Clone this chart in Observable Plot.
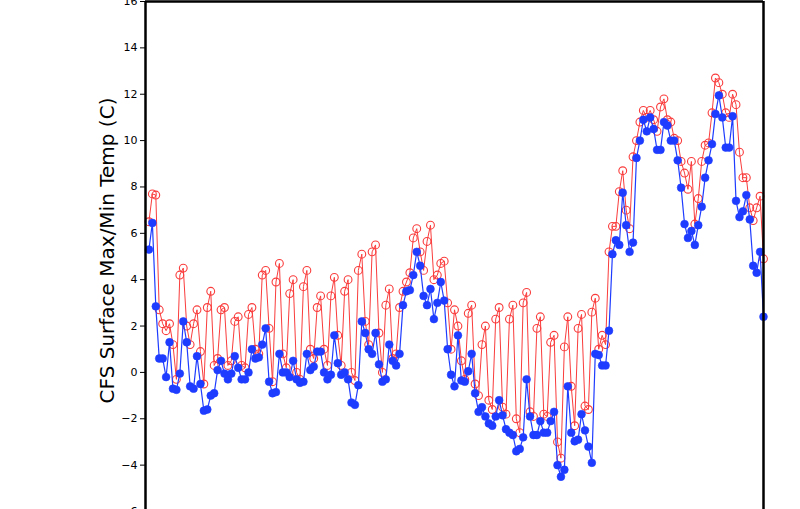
<!DOCTYPE html>
<html>
<head>
<meta charset="utf-8">
<script src="https://cdn.jsdelivr.net/npm/d3@7"></script>
<script src="https://cdn.jsdelivr.net/npm/@observablehq/plot@0.6"></script>
<style>
  html, body { margin: 0; padding: 0; background: #ffffff; }
  #chart svg { display: block; }
</style>
</head>
<body>
<div id="chart"></div>
<script>
// 6-hourly CFS surface maximum temperature (C)
const maxTemp = [
  6.5, 7.7, 7.65, 2.7, 2.1, 1.8, 2.1, 1.2, -0.3, 4.2,
  4.5, 2.0, 1.2, 2.1, 2.7, 0.9, -0.5, 2.8, 3.5, 0.3,
  0.6, 2.7, 2.8, 0.3, 0.5, 2.2, 2.4, 0.3, 0.2, 2.5,
  2.8, 1.0, 0.8, 4.2, 4.4, 1.9, -0.4, 3.9, 4.7, 0.8,
  0.2, 3.4, 4.0, 0.0, -0.3, 3.7, 4.4, 1.0, 0.6, 2.8,
  3.3, 1.0, 0.3, 3.3, 4.1, 1.6, 0.3, 3.5, 4.0, 0.0,
  -0.35, 4.4, 5.1, 2.2, 1.2, 5.2, 5.5, 1.7, 0.0, 2.9,
  3.6, 0.6, 0.8, 2.8, 3.5, 3.9, 4.3, 5.8, 6.2, 5.2,
  4.4, 5.65, 6.35, 4.0, 4.2, 4.7, 4.8, 3.0, 1.0, 2.7,
  2.0, 0.5, -0.3, 2.55, 2.9, -0.5, -1.0, 1.2, 2.0, -1.2,
  -1.6, 2.3, 2.8, -1.5, -1.8, 2.3, 2.9, -2.0, -2.6, 3.0,
  3.45, -1.7, -1.9, 1.9, 2.4, -1.8, -1.9, 1.3, 1.6, -3.0,
  -3.7, 1.1, 2.4, -0.6, -2.3, 1.9, 2.5, -1.45, -1.6, 2.6,
  3.2, 1.0, 1.6, 1.2, 5.2, 6.3, 6.3, 7.8, 8.7, 7.0,
  6.2, 9.3, 10.0, 10.8, 11.3, 11.0, 11.3, 10.9, 10.4, 11.45,
  11.8, 10.9, 10.8, 10.1, 10.0, 9.1, 8.6, 7.9, 9.1, 6.4,
  7.5, 9.1, 9.8, 9.9, 11.2, 12.7, 12.5, 12.0, 11.2, 11.0,
  12.0, 11.55, 9.5, 8.4, 8.4, 7.1, 6.55, 7.1, 7.6, 4.9
];
// 6-hourly CFS surface minimum temperature (C)
const minTemp = [
  5.3, 6.45, 2.85, 0.6, 0.6, -0.2, 1.3, -0.7, -0.75, -0.05,
  2.2, 1.3, -0.6, -0.7, 0.7, -0.5, -1.65, -1.6, -1.0, -0.9,
  0.1, 0.5, -0.05, -0.3, -0.05, 0.7, 0.2, -0.3, -0.3, 0.0,
  1.0, 0.6, 0.65, 1.2, 1.9, -0.4, -0.9, -0.85, 0.8, 0.0,
  0.0, -0.2, 0.5, -0.3, -0.45, -0.4, 0.8, 0.1, 0.25, 0.9,
  0.9, 0.0, -0.3, -0.1, 1.6, 0.4, -0.1, 0.0, -0.3, -1.3,
  -1.4, -0.55, 2.2, 1.7, 1.0, 0.8, 1.7, 0.35, -0.4, -0.3,
  1.2, 0.5, 0.3, 0.8, 2.9, 3.5, 3.55, 4.2, 5.2, 4.6,
  3.3, 2.9, 3.6, 2.3, 3.0, 3.9, 3.1, 1.0, -0.1, -0.6,
  1.6, -0.35, -0.4, 0.05, 0.8, -0.9, -1.7, -1.5, -1.9, -2.2,
  -2.3, -1.9, -1.2, -1.85, -2.45, -2.6, -2.7, -3.4, -3.3, -2.8,
  -0.3, -1.9, -2.7, -2.7, -2.1, -2.6, -2.6, -2.1, -1.7, -4.0,
  -4.5, -4.2, -0.6, -2.6, -2.97, -2.9, -1.8, -2.5, -3.2, -3.9,
  0.8, 0.75, 0.3, 0.3, 1.8, 5.1, 5.7, 5.5, 7.75, 6.35,
  5.2, 5.6, 9.25, 10.0, 10.9, 10.4, 11.0, 10.5, 9.6, 9.6,
  10.8, 10.65, 10.0, 10.0, 9.15, 7.97, 6.4, 5.8, 6.1, 5.5,
  6.35, 7.15, 8.4, 9.15, 9.85, 11.15, 11.95, 11.0, 9.7, 9.7,
  11.05, 7.4, 6.7, 6.95, 7.65, 6.6, 4.6, 4.3, 5.2, 2.4
];
const yTicks = [-6, -4, -2, 0, 2, 4, 6, 8, 10, 12, 14, 16];
const yTitle = "CFS Surface Max/Min Temp (C)";

const RED = "rgb(250,60,60)";
const BLUE = "rgb(30,60,255)";

const toRows = (arr) => arr.map((v, i) => ({ t: i, v }));
const maxRows = toRows(maxTemp);
const minRows = toRows(minTemp);
const tLast = maxTemp.length - 1;

const chart = Plot.plot({
  width: 800,
  height: 509,
  marginLeft: 145,
  marginRight: 37,
  marginTop: 1,
  marginBottom: -2,
  style: { background: "#ffffff", color: "black" },
  x: { domain: [-1, tLast], axis: null },
  y: { domain: [yTicks[0], yTicks[yTicks.length - 1]], axis: null },
  marks: [
    Plot.line(maxRows, { x: "t", y: "v", stroke: RED, strokeWidth: 1 }),
    Plot.dot(maxRows, { x: "t", y: "v", r: 3.9, stroke: RED, fill: "none", strokeWidth: 1.1 }),
    Plot.line(minRows, { x: "t", y: "v", stroke: BLUE, strokeWidth: 1.2 }),
    Plot.dot(minRows, { x: "t", y: "v", r: 3.9, fill: BLUE, stroke: BLUE, strokeWidth: 0.6 }),
    Plot.axisY({
      ticks: yTicks,
      tickSize: 5,
      tickPadding: 3,
      fontSize: 11,
      fontFamily: "DejaVu Sans",
      label: null,
      tickFormat: (d) => String(d).replace("-", "\u2212")
    }),
    Plot.ruleX([-1, tLast], { stroke: "black", strokeWidth: 2.5 }),
    Plot.ruleY([yTicks[yTicks.length - 1]], { stroke: "black", strokeWidth: 2.5 }),
    Plot.text([yTitle], {
      text: (d) => d,
      frameAnchor: "left",
      textAnchor: "middle",
      rotate: -90,
      dx: -38,
      dy: -6,
      fontSize: 20,
      fontFamily: "DejaVu Sans",
      fill: "black"
    })
  ]
});
document.getElementById("chart").appendChild(chart);
</script>
</body>
</html>
